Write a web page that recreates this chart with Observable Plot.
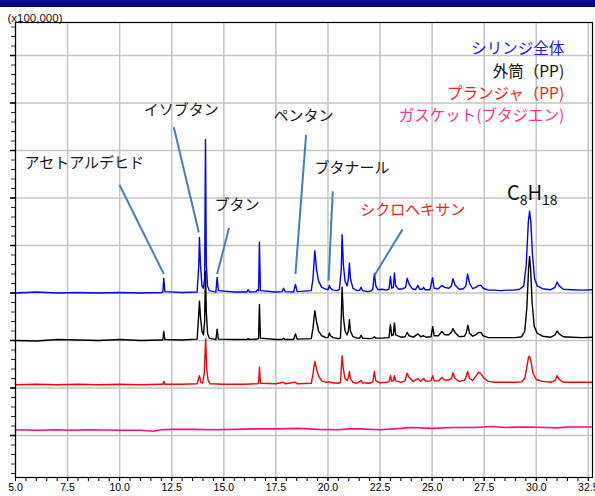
<!DOCTYPE html>
<html>
<head>
<meta charset="utf-8">
<script src="https://cdn.jsdelivr.net/npm/d3@7"></script>
<script src="https://cdn.jsdelivr.net/npm/@observablehq/plot@0.6"></script>
<style>
  body { margin: 0; background: #fff; }
  #wrap { position: relative; width: 595px; height: 496px; }
  #bar { position: absolute; left: 0; top: 0; width: 595px; height: 7px; background: linear-gradient(#0a0a8c, #000070); }
</style>
</head>
<body>
<div id="wrap"><div id="bar"></div></div>
<script>
// Retention time ticks
const xMajor = [5, 7.5, 10, 12.5, 15, 17.5, 20, 22.5, 25, 27.5, 30, 32.5];
const xMinor = d3.range(5, 32.75, 0.5);
const yMajor = [0, 1, 2, 3, 4, 5, 6, 7, 8];
const yMinor = d3.range(-0.8, 8.7, 0.2);

// Series: [retention time (min), intensity (x100,000, offset chart units)]
const syringe = [[5.0,3.00],[6.0,3.02],[7.0,3.00],[8.0,3.01],[9.0,3.00],[10.0,3.01],[11.0,3.00],[12.0,3.01],
[12.07,3.02],[12.12,3.31],[12.17,3.03],[13.0,3.01],[13.72,3.02],[13.8,3.6],[13.83,4.17],[13.88,3.6],[13.95,3.15],[14.02,3.1],[14.08,3.3],[14.12,6.23],[14.16,3.6],[14.22,3.15],[14.3,3.05],[14.62,3.02],[14.68,3.33],[14.74,3.05],
[15.5,3.02],[16.1,3.02],[16.17,3.07],[16.24,3.02],[16.55,3.03],[16.62,3.07],[16.67,3.05],[16.71,4.07],[16.76,3.05],[17.5,3.02],[17.8,3.03],[17.87,3.10],[17.94,3.03],[18.35,3.02],[18.44,3.18],[18.52,3.03],[19.2,3.05],[19.28,3.3],[19.37,3.89],[19.45,3.5],[19.55,3.25],[19.7,3.12],[19.9,3.08],[20.0,3.07],[20.07,3.16],[20.12,3.10],[20.25,3.06],[20.45,3.05],[20.55,3.08],[20.64,3.5],[20.68,4.23],[20.74,3.6],[20.82,3.25],[20.92,3.15],[20.98,3.3],[21.03,3.63],[21.08,3.3],[21.2,3.1],[21.4,3.05],[21.52,3.06],[21.59,3.12],[21.66,3.05],[21.9,3.03],[22.05,3.04],[22.15,3.08],[22.23,3.41],[22.3,3.15],[22.4,3.07],[22.6,3.08],[22.8,3.06],[22.93,3.08],[23.0,3.35],[23.06,3.1],[23.14,3.12],[23.19,3.42],[23.25,3.15],[23.4,3.08],[23.6,3.09],[23.73,3.12],[23.8,3.31],[23.9,3.18],[24.05,3.09],[24.2,3.07],[24.32,3.16],[24.4,3.08],[24.52,3.08],[24.59,3.12],[24.66,3.07],[24.9,3.07],[25.02,3.32],[25.1,3.1],[25.3,3.09],[25.47,3.16],[25.6,3.12],[25.8,3.1],[25.93,3.15],[26.0,3.30],[26.1,3.17],[26.3,3.08],[26.5,3.09],[26.62,3.15],[26.7,3.40],[26.8,3.2],[26.95,3.09],[27.1,3.12],[27.23,3.16],[27.35,3.16],[27.45,3.1],[27.7,3.06],[28.0,3.06],[28.3,3.05],[28.6,3.06],[28.9,3.06],[29.2,3.08],[29.4,3.15],[29.52,3.6],[29.62,4.5],[29.68,4.72],[29.74,4.5],[29.82,3.8],[29.92,3.3],[30.05,3.15],[30.3,3.09],[30.7,3.07],[30.9,3.12],[31.0,3.23],[31.1,3.15],[31.3,3.08],[31.7,3.07],[32.2,3.06],[32.7,3.07]];

const barrel = [[5.0,2.0],[6.0,1.99],[7.0,2.02],[8.0,2.01],[9.0,2.0],[10.0,2.02],[11.0,2.0],[12.0,2.01],[12.07,2.01],[12.12,2.19],[12.17,2.02],[13.0,2.01],[13.72,2.03],[13.79,2.5],[13.83,2.83],[13.88,2.5],[13.95,2.2],[14.02,2.12],[14.08,2.4],[14.12,3.46],[14.16,2.6],[14.22,2.15],[14.3,2.05],[14.62,2.02],[14.68,2.24],[14.74,2.03],[15.5,2.02],[16.1,2.02],[16.17,2.04],[16.24,2.02],[16.62,2.03],[16.67,2.05],[16.71,2.76],[16.76,2.05],[17.5,2.02],[17.8,2.02],[17.87,2.05],[17.94,2.02],[18.35,2.02],[18.44,2.14],[18.52,2.03],[19.2,2.04],[19.28,2.25],[19.37,2.63],[19.45,2.4],[19.55,2.2],[19.7,2.1],[19.9,2.06],[20.0,2.06],[20.07,2.16],[20.12,2.1],[20.25,2.06],[20.5,2.04],[20.6,2.05],[20.64,2.5],[20.68,3.12],[20.74,2.5],[20.82,2.2],[20.92,2.12],[20.98,2.2],[21.03,2.44],[21.08,2.2],[21.2,2.08],[21.4,2.05],[21.52,2.05],[21.59,2.11],[21.66,2.05],[22.0,2.04],[22.15,2.05],[22.23,2.08],[22.3,2.05],[22.6,2.05],[22.93,2.06],[23.0,2.34],[23.06,2.1],[23.14,2.12],[23.19,2.37],[23.25,2.12],[23.5,2.07],[23.7,2.08],[23.8,2.17],[23.9,2.1],[24.1,2.07],[24.32,2.14],[24.45,2.08],[24.59,2.1],[24.7,2.07],[24.95,2.08],[25.03,2.29],[25.1,2.1],[25.3,2.1],[25.47,2.19],[25.6,2.12],[25.8,2.12],[25.93,2.18],[26.0,2.25],[26.1,2.17],[26.3,2.08],[26.55,2.09],[26.63,2.15],[26.72,2.32],[26.8,2.15],[26.95,2.09],[27.1,2.12],[27.23,2.17],[27.35,2.17],[27.45,2.1],[27.7,2.06],[28.0,2.06],[28.5,2.06],[29.0,2.06],[29.3,2.08],[29.45,2.2],[29.55,2.7],[29.63,3.5],[29.68,3.77],[29.73,3.5],[29.8,2.8],[29.9,2.3],[30.05,2.15],[30.3,2.09],[30.7,2.07],[30.9,2.12],[31.0,2.20],[31.1,2.14],[31.3,2.08],[31.7,2.07],[32.2,2.06],[32.7,2.07]];

const plunger = [[5.0,1.07],[6.0,1.08],[7.0,1.07],[8.0,1.08],[9.0,1.07],[10.0,1.08],[11.0,1.07],[12.0,1.08],[12.07,1.08],[12.12,1.14],[12.17,1.08],[13.0,1.08],[13.72,1.09],[13.79,1.2],[13.83,1.26],[13.9,1.12],[13.98,1.1],[14.06,1.3],[14.13,2.04],[14.18,1.4],[14.25,1.15],[14.35,1.09],[15.0,1.08],[16.0,1.08],[16.62,1.09],[16.67,1.1],[16.71,1.44],[16.76,1.1],[17.5,1.09],[17.87,1.12],[17.94,1.09],[18.44,1.12],[18.52,1.09],[19.2,1.1],[19.28,1.3],[19.37,1.56],[19.45,1.4],[19.55,1.25],[19.7,1.15],[19.9,1.12],[20.07,1.13],[20.2,1.11],[20.5,1.1],[20.6,1.12],[20.64,1.4],[20.68,1.68],[20.74,1.4],[20.82,1.2],[20.92,1.16],[20.98,1.22],[21.03,1.35],[21.08,1.2],[21.2,1.12],[21.4,1.1],[21.59,1.16],[21.66,1.11],[22.0,1.1],[22.15,1.13],[22.23,1.35],[22.3,1.15],[22.5,1.11],[22.8,1.12],[22.93,1.13],[23.0,1.26],[23.06,1.14],[23.14,1.15],[23.19,1.26],[23.25,1.15],[23.5,1.12],[23.7,1.15],[23.8,1.31],[23.9,1.22],[24.1,1.14],[24.32,1.2],[24.45,1.14],[24.59,1.2],[24.7,1.14],[24.95,1.15],[25.02,1.26],[25.1,1.15],[25.3,1.15],[25.47,1.22],[25.6,1.17],[25.8,1.17],[25.93,1.2],[26.0,1.32],[26.1,1.2],[26.3,1.14],[26.55,1.16],[26.62,1.22],[26.7,1.35],[26.8,1.2],[26.95,1.16],[27.1,1.25],[27.23,1.33],[27.35,1.3],[27.5,1.2],[27.7,1.14],[28.0,1.12],[28.5,1.12],[29.0,1.12],[29.3,1.13],[29.45,1.2],[29.55,1.45],[29.63,1.65],[29.68,1.67],[29.75,1.55],[29.85,1.3],[30.0,1.18],[30.3,1.14],[30.7,1.12],[30.9,1.16],[31.0,1.26],[31.1,1.18],[31.3,1.12],[31.7,1.12],[32.2,1.12],[32.7,1.12]];

const gasket = [[5.0,0.12],[6.0,0.11],[7.0,0.12],[7.5,0.11],[8.5,0.12],[10.0,0.11],[11.0,0.11],[11.6,0.09],[12.0,0.12],[12.5,0.13],[13.5,0.13],[14.5,0.12],[15.5,0.13],[16.5,0.14],[17.5,0.14],[18.6,0.15],[19.5,0.13],[20.5,0.12],[21.0,0.14],[21.5,0.14],[22.5,0.12],[23.5,0.15],[24.0,0.17],[25.0,0.15],[26.0,0.17],[27.0,0.17],[27.9,0.19],[28.5,0.17],[29.5,0.18],[30.5,0.17],[31.0,0.16],[31.5,0.18],[32.7,0.18]];

const seriesNames = ["シリンジ全体", "外筒（PP)", "プランジャ（PP)", "ガスケット(ブタジエン)"];
const seriesColors = ["#0000ff", "#000000", "#ff0000", "#ff0a84"];
const legendColors = ["#1a1aff", "#111111", "#ff1a1a", "#ff3399"];
const legendY = [8.14, 7.65, 7.18, 6.73];
const legendX = 31.34;

// Peak annotations: label, colour, label position, leader line
const peakLabels = ["アセトアルデヒド", "イソブタン", "ブタン", "ペンタン", "ブタナール", "シクロヘキサン"];
const peakLabelColors = ["#1a1a1a", "#1a1a1a", "#1a1a1a", "#1a1a1a", "#1a1a1a", "#ff1a1a"];
const peakLabelX = [5.43, 11.16, 14.55, 17.39, 19.35, 21.55];
const peakLabelY = [5.73, 6.84, 4.84, 6.72, 5.63, 4.74];
const leaderX1 = [9.99, 12.60, 15.25, 18.95, 20.23, 23.58];
const leaderY1 = [5.28, 6.49, 4.37, 6.33, 5.14, 4.34];
const leaderX2 = [12.12, 13.80, 14.68, 18.44, 20.03, 22.23];
const leaderY2 = [3.40, 4.28, 3.40, 3.40, 3.26, 3.37];

const toRows = (arr) => arr.map(([t, v]) => ({t, v}));
const labels = peakLabels.map((s, i) => ({s, c: peakLabelColors[i], x: peakLabelX[i], y: peakLabelY[i]}));
const leaders = leaderX1.map((x1, i) => ({x1, y1: leaderY1[i], x2: leaderX2[i], y2: leaderY2[i]}));
const legend = seriesNames.map((s, i) => ({s, c: legendColors[i], y: legendY[i]}));
const jp = "'Noto Sans CJK JP', 'Noto Sans', sans-serif";

const chart = Plot.plot({
  width: 595, height: 496,
  marginLeft: 15, marginRight: 3, marginTop: 22, marginBottom: 19,
  style: {fontFamily: "'Liberation Sans', sans-serif", background: "transparent", color: "#000"},
  x: {domain: [5, 32.7]},
  y: {domain: [-0.884, 8.695]},
  marks: [
    Plot.ruleX(xMajor, {stroke: "#c4c4c4", strokeWidth: 1.5}),
    Plot.ruleY(yMajor, {stroke: "#c4c4c4", strokeWidth: 1.5}),
    Plot.axisX({ticks: xMinor, tickSize: 4, text: null, stroke: "#000"}),
    Plot.axisX({ticks: xMajor, tickSize: 4, tickPadding: 2, tickFormat: d3.format(".1f"), fontSize: 10.5, fill: "#000"}),
    Plot.axisY({ticks: yMinor, tickSize: 4, text: null, stroke: "#333"}),
    Plot.axisY({ticks: yMajor, tickSize: 5, text: null, stroke: "#000", strokeWidth: 1.5}),
    Plot.line(toRows(gasket), {x: "t", y: "v", stroke: seriesColors[3], strokeWidth: 1.6}),
    Plot.line(toRows(syringe), {x: "t", y: "v", stroke: seriesColors[0], strokeWidth: 1.4}),
    Plot.line(toRows(barrel), {x: "t", y: "v", stroke: seriesColors[1], strokeWidth: 1.4}),
    Plot.line(toRows(plunger), {x: "t", y: "v", stroke: seriesColors[2], strokeWidth: 1.4}),
    Plot.link(leaders, {x1: "x1", y1: "y1", x2: "x2", y2: "y2", stroke: "#4a7ebb", strokeWidth: 2}),
    Plot.text(labels, {x: "x", y: "y", text: "s", fill: "c", textAnchor: "start", fontSize: 15, fontFamily: jp}),
    Plot.text(legend, {x: legendX, y: "y", text: "s", fill: "c", textAnchor: "end", fontSize: 15.5, fontFamily: jp}),
    Plot.text(["C8H18"], {x: 28.59, y: 5.09, textAnchor: "start", fontSize: 20, fontFamily: jp, fill: "#111"}),
    Plot.text(["(x100,000)"], {frameAnchor: "top-left", textAnchor: "start", lineAnchor: "bottom", dx: -8, dy: -1, fontSize: 11.5, fill: "#111"}),
    Plot.frame({stroke: "#000", strokeWidth: 1.2})
  ]
});
document.getElementById("wrap").appendChild(chart);

// Subscripts for C8H18
d3.select(chart).selectAll("text").filter(function() { return this.textContent === "C8H18"; }).each(function() {
  const t = d3.select(this);
  t.text(null);
  t.append("tspan").text("C");
  t.append("tspan").attr("dy", 5).attr("font-size", 14).text("8");
  t.append("tspan").attr("dy", -5).text("H");
  t.append("tspan").attr("dy", 5).attr("font-size", 14).text("18");
});
</script>
</body>
</html>
